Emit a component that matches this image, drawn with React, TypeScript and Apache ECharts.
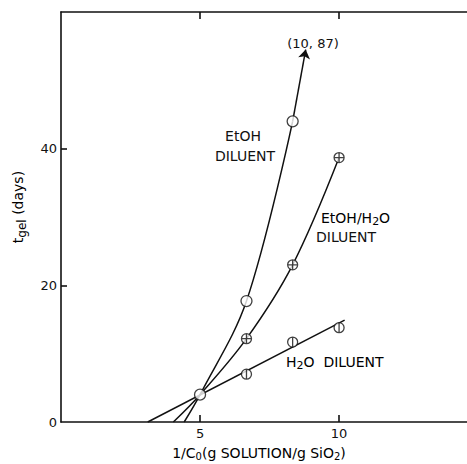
import React, { useEffect, useRef } from "react";
import * as echarts from "echarts";

// Measured points
const etohPts: [number, number][] = [[5, 4], [6.67, 17.7], [8.33, 44]];
const mixPts: [number, number][] = [[6.67, 12.2], [8.33, 23], [10, 38.7]];
const waterPts: [number, number][] = [[6.67, 7.0], [8.33, 11.7], [10, 13.8]];

// Drawn curves
const etohCurve: [number, number][] = [[4.43, 0], [5, 4], [6.67, 17.7], [8.33, 44]];
const etohArrow: [number, number][] = [[8.33, 44], [8.8, 54.5]];
const mixCurve: [number, number][] = [[4.04, 0], [5, 4], [6.67, 12.2], [8.33, 23], [10, 38.7]];
const waterLine: [number, number][] = [[3.12, 0], [10.2, 14.9]];

const xTickValues = [5, 10];
const xLabelValues = [5, 10];
const yTickValues = [20, 40];
const yLabelValues = [0, 20, 40];

const FONT = "DejaVu Sans";
const INK = "#111";

const circleSym = "path://M0,-5A5,5,0,1,1,0,5A5,5,0,1,1,0,-5Z";
const plusSym = "path://M0,-5A5,5,0,1,1,0,5A5,5,0,1,1,0,-5Z M-5,0L5,0 M0,-5L0,5";
const phiSym = "path://M0,-5A5,5,0,1,1,0,5A5,5,0,1,1,0,-5Z M0,-5L0,5";

export default function App() {
  const ref = useRef<HTMLDivElement>(null);
  useEffect(() => {
    if (!ref.current) return;
    const chart = echarts.init(ref.current, null, { renderer: "svg" });
    const axisCommon = {
      axisLine: { show: true, lineStyle: { color: INK, width: 1.6 } },
      splitLine: { show: false },
    };
    const tickStyle = { color: INK, width: 1.6 };
    const lineStyle = { color: INK, width: 1.5 };
    const markerStyle = { color: "#fff", borderColor: INK, borderWidth: 1.3 };
    chart.setOption({
      animation: false,
      backgroundColor: "#fff",
      grid: { left: 61, top: 12, right: 0, bottom: 42 },
      xAxis: [
        {
          type: "value", min: 0, max: 14.6, position: "bottom",
          ...axisCommon,
          axisTick: { show: true, inside: true, length: 7, customValues: xTickValues, lineStyle: tickStyle },
          axisLabel: {
            margin: 5, color: INK, fontFamily: FONT, fontSize: 13, customValues: xLabelValues,
          },
        },
        {
          type: "value", min: 0, max: 14.6, position: "top",
          ...axisCommon,
          axisTick: { show: true, inside: true, length: 7, customValues: xTickValues, lineStyle: tickStyle },
          axisLabel: { show: false },
        },
      ],
      yAxis: [
        {
          type: "value", min: 0, max: 60,
          ...axisCommon,
          axisTick: { show: true, inside: true, length: 6, customValues: yTickValues, lineStyle: tickStyle },
          axisLabel: {
            margin: 4, color: INK, fontFamily: FONT, fontSize: 13, customValues: yLabelValues,
          },
        },
      ],
      series: [
        {
          type: "line", data: etohCurve, smooth: 0.35, showSymbol: false,
          lineStyle, silent: true,
          markLine: {
            silent: true, symbol: ["none", "arrow"], symbolSize: 9,
            lineStyle: { color: INK, width: 1.5, type: "solid" }, label: { show: false },
            data: [[{ coord: etohArrow[0] }, { coord: etohArrow[1] }]],
          },
        },
        { type: "line", data: mixCurve, smooth: 0.35, showSymbol: false, lineStyle, silent: true },
        { type: "line", data: waterLine, showSymbol: false, lineStyle, silent: true },
        { type: "scatter", data: etohPts, symbol: circleSym, symbolSize: 11, itemStyle: markerStyle, z: 5 },
        { type: "scatter", data: mixPts, symbol: plusSym, symbolSize: 10, itemStyle: markerStyle, z: 5 },
        { type: "scatter", data: waterPts, symbol: phiSym, symbolSize: 10, itemStyle: markerStyle, z: 5 },
      ],
      graphic: [
        {
          type: "text", x: 243, y: 136,
          style: { text: "EtOH", font: `14px "${FONT}"`, fill: INK, align: "center", verticalAlign: "middle" },
        },
        {
          type: "text", x: 245, y: 156,
          style: { text: "DILUENT", font: `14px "${FONT}"`, fill: INK, align: "center", verticalAlign: "middle" },
        },
        {
          type: "text", x: 321, y: 218,
          style: {
            text: "{a|EtOH/H}{s|2}{a|O}", align: "left", verticalAlign: "middle",
            rich: {
              a: { fontFamily: FONT, fontSize: 14, color: INK },
              s: { fontFamily: FONT, fontSize: 11, color: INK, padding: [7, 0, 0, 0] },
            },
          },
        },
        {
          type: "text", x: 316, y: 237,
          style: { text: "DILUENT", font: `14px "${FONT}"`, fill: INK, align: "left", verticalAlign: "middle" },
        },
        {
          type: "text", x: 286, y: 362,
          style: {
            text: "{a|H}{s|2}{a|O  DILUENT}", align: "left", verticalAlign: "middle",
            rich: {
              a: { fontFamily: FONT, fontSize: 14, color: INK },
              s: { fontFamily: FONT, fontSize: 11, color: INK, padding: [7, 0, 0, 0] },
            },
          },
        },
        {
          type: "text", x: 313, y: 43,
          style: { text: "(10, 87)", font: `13px "${FONT}"`, fill: INK, align: "center", verticalAlign: "middle" },
        },
        {
          type: "text", x: 259, y: 453,
          style: {
            text: "{a|1/C}{s|0}{a|(g SOLUTION/g SiO}{s|2}{a|)}", align: "center", verticalAlign: "middle",
            rich: {
              a: { fontFamily: FONT, fontSize: 14, color: INK },
              s: { fontFamily: FONT, fontSize: 10, color: INK, padding: [7, 0, 0, 0] },
            },
          },
        },
        {
          type: "text", x: 18, y: 207, rotation: Math.PI / 2,
          style: {
            text: "{a|t}{s|gel}{a| (days)}", align: "center", verticalAlign: "middle",
            rich: {
              a: { fontFamily: FONT, fontSize: 14, color: INK },
              s: { fontFamily: FONT, fontSize: 12, color: INK, padding: [7, 0, 0, 0] },
            },
          },
        },
      ],
    });
    return () => chart.dispose();
  }, []);
  return <div ref={ref} style={{ width: 467, height: 464, position: "absolute", left: 0, top: 0 }} />;
}
